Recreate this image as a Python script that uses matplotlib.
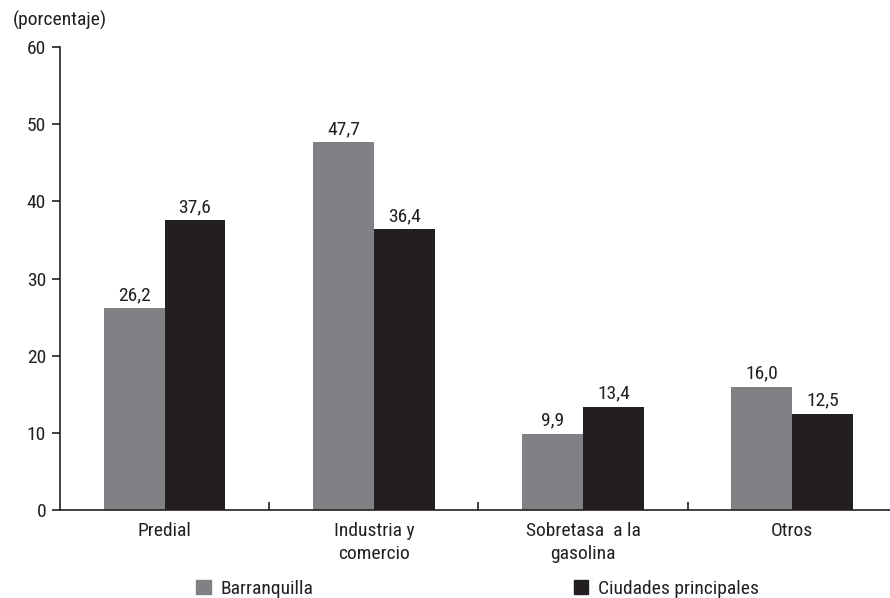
import matplotlib
matplotlib.use("Agg")
import matplotlib.pyplot as plt
import numpy as np
from matplotlib import font_manager
from matplotlib.patches import Patch

names = {f.name for f in font_manager.fontManager.ttflist}
family = "Roboto"
for cand in ("Liberation Sans Narrow", "Roboto Condensed", "Open Sans Condensed"):
    if cand in names:
        family = cand
        break
plt.rcParams["font.family"] = [family, "DejaVu Sans"]
plt.rcParams["font.size"] = 14 if "Cond" in family or "Narrow" in family else 13.5

categories = ["Predial", "Industria y\ncomercio", "Sobretasa  a la\ngasolina", "Otros"]
barranquilla = [26.2, 47.7, 9.9, 16.0]
principales = [37.6, 36.4, 13.4, 12.5]
series_names = ["Barranquilla", "Ciudades principales"]

GRAY = "#808184"
DARK = "#231f20"
TXT = "#231f20"

fig = plt.figure(figsize=(8.9, 5.98), dpi=100)
ax = fig.add_axes([60 / 890, 88 / 598, 830 / 890, 463 / 598])

x = np.arange(len(categories))
w = 0.291
b1 = ax.bar(x - w / 2, barranquilla, w, color=GRAY)
b2 = ax.bar(x + w / 2, principales, w, color=DARK)

for bars, vals in ((b1, barranquilla), (b2, principales)):
    for rect, v in zip(bars, vals):
        ax.text(rect.get_x() + rect.get_width() / 2, v + 0.5, f"{v:.1f}".replace(".", ","),
                ha="center", va="bottom", color=TXT)

ax.set_ylim(0, 60)
ax.set_xlim(-0.5, 3.467)
ax.set_yticks(range(0, 61, 10))
ax.tick_params(axis="y", direction="out", length=6, width=1.2, colors=TXT, pad=4)

# category labels without ticks, boundary ticks pointing up
ax.set_xticks(x)
ax.set_xticklabels(categories, linespacing=1.35)
ax.tick_params(axis="x", length=0, pad=9, colors=TXT)
ax.set_xticks([0.5, 1.5, 2.5], minor=True)
ax.tick_params(axis="x", which="minor", direction="in", length=6, width=1.2, color=TXT)

for s in ("top", "right"):
    ax.spines[s].set_visible(False)
for s in ("left", "bottom"):
    ax.spines[s].set_linewidth(1.2)
    ax.spines[s].set_color(TXT)

fig.text(13 / 890, 1 - 20 / 598, "(porcentaje)", ha="left", va="center", color=TXT)

handles = [Patch(color=GRAY), Patch(color=DARK)]
fig.legend(handles, series_names, loc="center left", bbox_to_anchor=(196 / 890, 1 - 589 / 598),
           ncol=2, frameon=False, handlelength=0.75, handleheight=0.75, handletextpad=0.5,
           columnspacing=13.4, borderaxespad=0, borderpad=0, labelcolor=TXT)

fig.savefig("out.png", dpi=100)
